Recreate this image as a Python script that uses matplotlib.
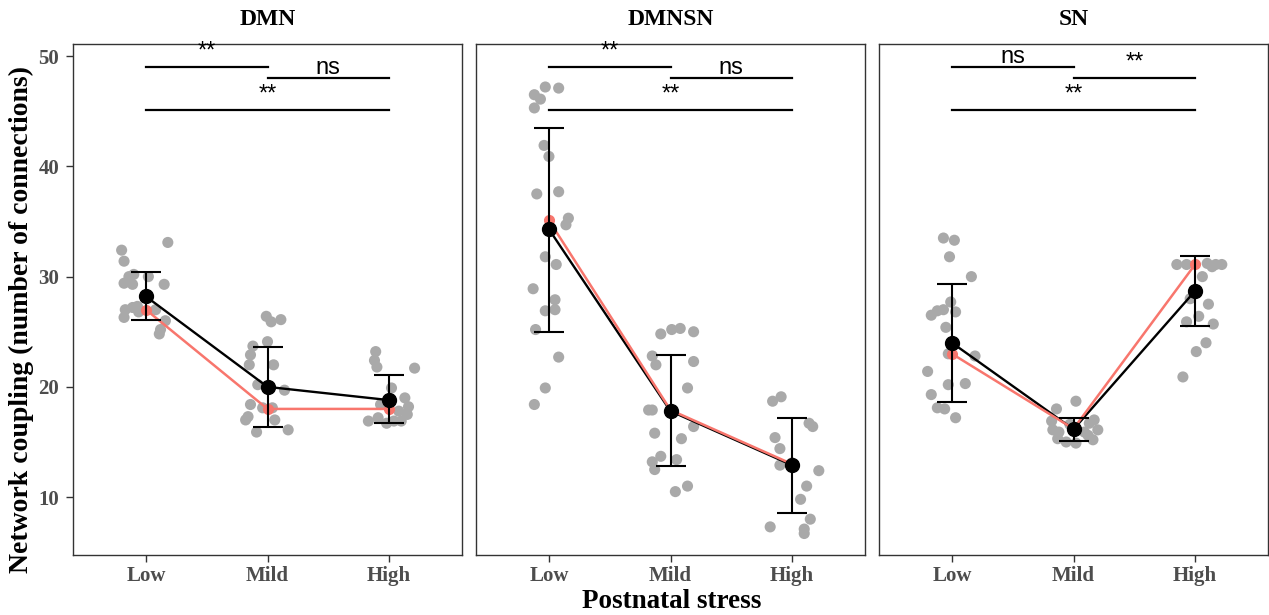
import numpy as np
import matplotlib.pyplot as plt

# categories and panels
stress = ['Low', 'Mild', 'High']
networks = ['DMN', 'DMNSN', 'SN']

# individual subjects: values and horizontal jitter (per stress group)
dmn_y = [
    [33.1, 32.4, 31.4, 29.4, 30.0, 30.2, 30.0, 29.3, 29.3, 27.0, 27.2, 27.3, 27.0, 26.3, 26.0, 25.2, 24.8, 26.8],
    [26.4, 25.9, 26.1, 23.7, 24.1, 22.9, 22.0, 22.0, 20.2, 19.7, 18.4, 18.1, 18.1, 17.0, 17.0, 15.9, 16.1, 17.3],
    [23.2, 22.4, 21.8, 21.7, 19.9, 19.0, 18.4, 18.2, 17.8, 17.5, 16.9, 17.2, 16.9, 16.9, 16.7],
]
dmn_dx = [
    [0.18, -0.20, -0.18, -0.18, -0.14, -0.10, 0.02, 0.15, -0.11, -0.17, -0.11, -0.07, 0.08, -0.18, 0.16, 0.12, 0.11, -0.06],
    [-0.01, 0.03, 0.11, -0.12, 0.00, -0.14, -0.15, 0.05, -0.08, 0.14, -0.14, -0.04, 0.04, -0.18, 0.06, -0.09, 0.17, -0.16],
    [-0.11, -0.12, -0.10, 0.21, 0.02, 0.13, -0.07, 0.16, 0.08, 0.15, -0.17, -0.09, 0.04, 0.10, -0.02],
]
dmnsn_y = [
    [47.2, 47.1, 46.5, 46.1, 45.3, 41.9, 40.9, 37.5, 37.7, 35.3, 34.7, 31.8, 31.1, 28.9, 27.9, 26.9, 27.0, 25.2, 22.7, 19.9, 18.4],
    [24.8, 25.2, 25.3, 25.0, 22.8, 22.0, 22.3, 19.9, 17.9, 17.9, 16.4, 15.8, 15.3, 13.7, 13.2, 12.5, 13.4, 10.5, 11.0],
    [18.7, 19.1, 16.7, 16.4, 15.4, 14.4, 12.9, 12.4, 11.0, 9.8, 8.0, 7.3, 7.1, 6.7, 13.1],
]
dmnsn_dx = [
    [-0.03, 0.08, -0.12, -0.07, -0.12, -0.04, 0.00, -0.10, 0.08, 0.16, 0.14, -0.03, 0.06, -0.13, 0.05, -0.03, 0.05, -0.11, 0.08, -0.03, -0.12],
    [-0.08, 0.01, 0.08, 0.19, -0.15, -0.12, 0.19, 0.14, -0.18, -0.15, 0.19, -0.13, 0.09, -0.08, -0.15, -0.13, 0.05, 0.04, 0.14],
    [-0.16, -0.09, 0.14, 0.17, -0.14, -0.10, -0.10, 0.22, 0.12, 0.07, 0.15, -0.18, 0.10, 0.10, 0.00],
]
sn_y = [
    [33.5, 33.3, 31.8, 30.0, 27.7, 26.5, 26.9, 27.0, 26.8, 25.4, 23.0, 22.8, 21.4, 20.2, 20.3, 19.3, 18.1, 18.0, 17.2],
    [18.7, 18.0, 16.9, 17.0, 16.7, 16.1, 15.9, 16.1, 15.9, 15.3, 15.0, 14.9, 15.2, 15.6, 16.6],
    [31.1, 31.1, 31.2, 31.1, 31.1, 30.9, 30.0, 28.0, 27.5, 26.4, 25.9, 25.7, 24.0, 23.2, 20.9],
]
sn_dx = [
    [-0.07, 0.02, -0.02, 0.16, -0.01, -0.17, -0.12, -0.07, 0.03, -0.05, -0.03, 0.19, -0.20, -0.03, 0.11, -0.17, -0.12, -0.06, 0.03],
    [0.02, -0.14, -0.18, 0.17, 0.13, -0.17, -0.12, 0.20, 0.09, -0.13, -0.06, 0.02, 0.16, 0.12, -0.03],
    [-0.15, -0.07, 0.10, 0.17, 0.22, 0.14, 0.06, -0.04, 0.11, 0.03, -0.07, 0.15, 0.09, 0.01, -0.10],
]

# summary: mean with error bar limits, and median
dmn_mean = [28.2, 20.0, 18.8]
dmn_lo = [26.1, 16.4, 16.7]
dmn_hi = [30.4, 23.65, 21.1]
dmn_med = [27.0, 18.0, 18.0]

dmnsn_mean = [34.3, 17.8, 12.9]
dmnsn_lo = [25.0, 12.8, 8.6]
dmnsn_hi = [43.5, 22.9, 17.15]
dmnsn_med = [35.1, 17.9, 13.0]

sn_mean = [24.0, 16.15, 28.7]
sn_lo = [18.65, 15.1, 25.5]
sn_hi = [29.3, 17.15, 31.85]
sn_med = [23.0, 16.2, 31.1]

# significance brackets (Low-Mild, Mild-High, Low-High)
pairs = [(1, 2), (2, 3), (1, 3)]
bracket_y = [49.05, 48.05, 45.1]
dmn_sig = ['**', 'ns', '**']
dmnsn_sig = ['**', 'ns', '**']
sn_sig = ['ns', '**', '**']

panels = [
    (dmn_y, dmn_dx, dmn_mean, dmn_lo, dmn_hi, dmn_med, dmn_sig),
    (dmnsn_y, dmnsn_dx, dmnsn_mean, dmnsn_lo, dmnsn_hi, dmnsn_med, dmnsn_sig),
    (sn_y, sn_dx, sn_mean, sn_lo, sn_hi, sn_med, sn_sig),
]

serif = ['Liberation Serif', 'DejaVu Serif']
sans = ['Liberation Sans', 'DejaVu Sans']
red = '#F8766D'
grey_txt = '#4D4D4D'

fig = plt.figure(figsize=(12.69, 6.15), dpi=100)
lefts = [73, 476, 879]
x = np.arange(1, 4)

for i, (ys, dxs, mean, lo, hi, med, sig) in enumerate(panels):
    ax = fig.add_axes([lefts[i] / 1269, 1 - 555 / 615, 389 / 1269, 511 / 615])

    # jittered subjects
    for k in range(3):
        ax.scatter(x[k] + np.array(dxs[k]), ys[k], s=64, color='#A9A9A9',
                   edgecolors='none', zorder=1)

    mean = np.array(mean)
    ax.plot(x, mean, color='black', lw=1.7, zorder=2)
    ax.plot(x, med, color=red, lw=1.8, marker='o', ms=7, zorder=3)
    ax.errorbar(x, mean, yerr=[mean - np.array(lo), np.array(hi) - mean],
                fmt='none', ecolor='black', elinewidth=1.5, capsize=11,
                capthick=1.5, zorder=4)
    ax.plot(x, mean, 'o', color='black', ms=10, zorder=5)

    # significance lines
    for (a, b), yb, lab in zip(pairs, bracket_y, sig):
        ax.plot([a, b], [yb, yb], color='black', lw=1.6, zorder=2)
        off = 0.85 if lab == '**' else 0.35
        ax.text((a + b) / 2, yb + off, lab, ha='center', va='baseline',
                fontsize=17, family=sans, clip_on=False)

    ax.set_xlim(0.4, 3.6)
    ax.set_ylim(4.75, 51.1)
    ax.set_xticks(x)
    ax.set_xticklabels(stress)
    ax.set_yticks([10, 20, 30, 40, 50])
    if i > 0:
        ax.tick_params(axis='y', left=False, labelleft=False)
    ax.tick_params(length=5, width=1, color='#333333', labelcolor=grey_txt,
                   labelsize=15, pad=5)
    ax.tick_params(axis='x', pad=3)
    for lab in ax.get_xticklabels() + ax.get_yticklabels():
        lab.set_family(serif)
        lab.set_fontweight('bold')
    for sp in ax.spines.values():
        sp.set_color('#333333')
        sp.set_linewidth(1)
    ax.set_title(networks[i], fontsize=17, fontweight='bold', family=serif, pad=14)

fig.text(672 / 1269, 1 - 608 / 615, 'Postnatal stress', ha='center', va='baseline',
         fontsize=19.5, fontweight='bold', family=serif)
fig.text(0.017, 0.48, 'Network coupling (number of connections)', ha='center',
         va='center', rotation=90, fontsize=20, fontweight='bold', family=serif)

fig.savefig('out.png', dpi=100)
